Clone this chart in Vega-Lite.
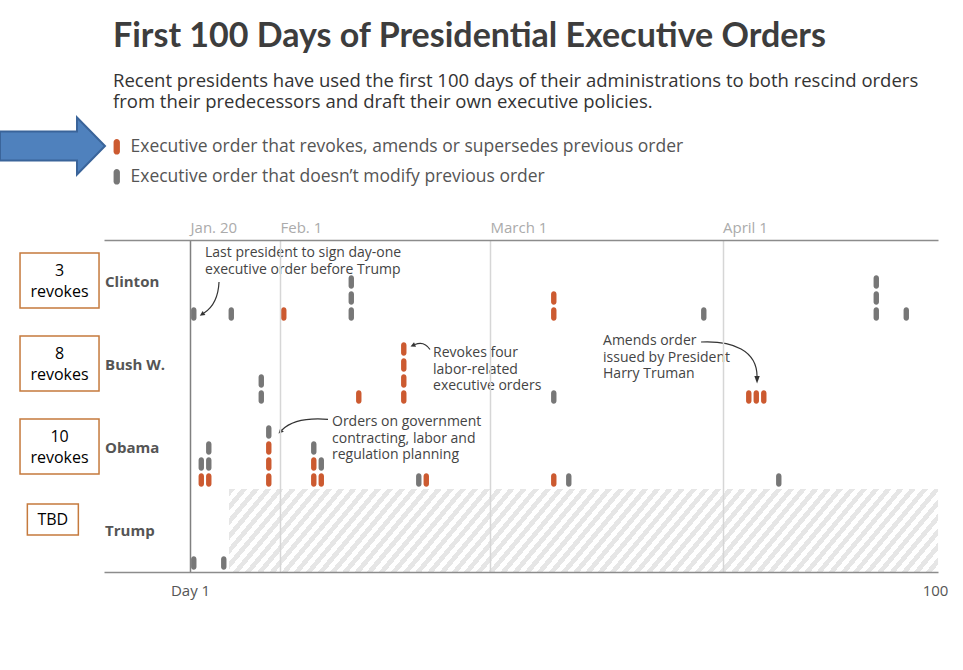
{
  "$schema": "https://vega.github.io/schema/vega-lite/v6.json",
  "width": 834,
  "height": 332,
  "autosize": {"type": "none"},
  "padding": {"left": 104, "top": 240, "right": 25, "bottom": 98},
  "title": {
    "text": "First 100 Days of Presidential Executive Orders",
    "subtitle": ["Recent presidents have used the first 100 days of their administrations to both rescind orders", "from their predecessors and draft their own executive policies."],
    "anchor": "start", "frame": "group", "orient": "top", "dx": 9, "offset": 2,
    "font": "Lato", "fontSize": 34, "fontWeight": "bold", "color": "#3d3d3d",
    "subtitleFont": "Open Sans", "subtitleFontSize": 18.5, "subtitleColor": "#333333", "subtitleLineHeight": 21, "subtitlePadding": 18
  },
  "config": {"view": {"stroke": null}, "font": "Open Sans"},
  "datasets": {
    "orders": [
      {"president": "Clinton", "day": 1, "type": "other"},
      {"president": "Clinton", "day": 6, "type": "other"},
      {"president": "Clinton", "day": 13, "type": "revoke"},
      {"president": "Clinton", "day": 22, "type": "other"},
      {"president": "Clinton", "day": 22, "type": "other"},
      {"president": "Clinton", "day": 22, "type": "other"},
      {"president": "Clinton", "day": 49, "type": "revoke"},
      {"president": "Clinton", "day": 49, "type": "revoke"},
      {"president": "Clinton", "day": 69, "type": "other"},
      {"president": "Clinton", "day": 92, "type": "other"},
      {"president": "Clinton", "day": 92, "type": "other"},
      {"president": "Clinton", "day": 92, "type": "other"},
      {"president": "Clinton", "day": 96, "type": "other"},
      {"president": "Bush W.", "day": 10, "type": "other"},
      {"president": "Bush W.", "day": 10, "type": "other"},
      {"president": "Bush W.", "day": 23, "type": "revoke"},
      {"president": "Bush W.", "day": 29, "type": "revoke"},
      {"president": "Bush W.", "day": 29, "type": "revoke"},
      {"president": "Bush W.", "day": 29, "type": "revoke"},
      {"president": "Bush W.", "day": 29, "type": "revoke"},
      {"president": "Bush W.", "day": 49, "type": "other"},
      {"president": "Bush W.", "day": 75, "type": "revoke"},
      {"president": "Bush W.", "day": 76, "type": "revoke"},
      {"president": "Bush W.", "day": 77, "type": "revoke"},
      {"president": "Obama", "day": 2, "type": "revoke"},
      {"president": "Obama", "day": 2, "type": "other"},
      {"president": "Obama", "day": 3, "type": "revoke"},
      {"president": "Obama", "day": 3, "type": "other"},
      {"president": "Obama", "day": 3, "type": "other"},
      {"president": "Obama", "day": 11, "type": "revoke"},
      {"president": "Obama", "day": 11, "type": "revoke"},
      {"president": "Obama", "day": 11, "type": "revoke"},
      {"president": "Obama", "day": 11, "type": "other"},
      {"president": "Obama", "day": 17, "type": "revoke"},
      {"president": "Obama", "day": 17, "type": "revoke"},
      {"president": "Obama", "day": 17, "type": "other"},
      {"president": "Obama", "day": 18, "type": "revoke"},
      {"president": "Obama", "day": 18, "type": "other"},
      {"president": "Obama", "day": 31, "type": "other"},
      {"president": "Obama", "day": 32, "type": "revoke"},
      {"president": "Obama", "day": 49, "type": "revoke"},
      {"president": "Obama", "day": 51, "type": "other"},
      {"president": "Obama", "day": 79, "type": "other"},
      {"president": "Trump", "day": 1, "type": "other"},
      {"president": "Trump", "day": 5, "type": "other"}
    ],
    "presidents": [
      {"president": "Clinton", "box": "3\nrevokes"},
      {"president": "Bush W.", "box": "8\nrevokes"},
      {"president": "Obama", "box": "10\nrevokes"},
      {"president": "Trump", "box": "TBD"}
    ]
  },
  "resolve": {"axis": {"x": "independent"}},
  "layer": [
    {
      "data": {"values": [{}]},
      "mark": {"type": "point", "shape": "M0,-41.5L709,-41.5L709,41.5L0,41.5Z", "size": 4, "filled": true, "strokeWidth": 0, "opacity": 1, "fill": {"gradient": "linear", "x1": 0, "y1": 0, "x2": 1.087, "y2": 0.106, "stops": [
{"offset":0,"color":"#e6e6e6"},{"offset":0.0078125,"color":"#e6e6e6"},{"offset":0.0078125,"color":"transparent"},{"offset":0.015625,"color":"transparent"},
{"offset":0.015625,"color":"#e6e6e6"},{"offset":0.0234375,"color":"#e6e6e6"},{"offset":0.0234375,"color":"transparent"},{"offset":0.03125,"color":"transparent"},
{"offset":0.03125,"color":"#e6e6e6"},{"offset":0.0390625,"color":"#e6e6e6"},{"offset":0.0390625,"color":"transparent"},{"offset":0.046875,"color":"transparent"},
{"offset":0.046875,"color":"#e6e6e6"},{"offset":0.0546875,"color":"#e6e6e6"},{"offset":0.0546875,"color":"transparent"},{"offset":0.0625,"color":"transparent"},
{"offset":0.0625,"color":"#e6e6e6"},{"offset":0.0703125,"color":"#e6e6e6"},{"offset":0.0703125,"color":"transparent"},{"offset":0.078125,"color":"transparent"},
{"offset":0.078125,"color":"#e6e6e6"},{"offset":0.0859375,"color":"#e6e6e6"},{"offset":0.0859375,"color":"transparent"},{"offset":0.09375,"color":"transparent"},
{"offset":0.09375,"color":"#e6e6e6"},{"offset":0.1015625,"color":"#e6e6e6"},{"offset":0.1015625,"color":"transparent"},{"offset":0.109375,"color":"transparent"},
{"offset":0.109375,"color":"#e6e6e6"},{"offset":0.1171875,"color":"#e6e6e6"},{"offset":0.1171875,"color":"transparent"},{"offset":0.125,"color":"transparent"},
{"offset":0.125,"color":"#e6e6e6"},{"offset":0.1328125,"color":"#e6e6e6"},{"offset":0.1328125,"color":"transparent"},{"offset":0.140625,"color":"transparent"},
{"offset":0.140625,"color":"#e6e6e6"},{"offset":0.1484375,"color":"#e6e6e6"},{"offset":0.1484375,"color":"transparent"},{"offset":0.15625,"color":"transparent"},
{"offset":0.15625,"color":"#e6e6e6"},{"offset":0.1640625,"color":"#e6e6e6"},{"offset":0.1640625,"color":"transparent"},{"offset":0.171875,"color":"transparent"},
{"offset":0.171875,"color":"#e6e6e6"},{"offset":0.1796875,"color":"#e6e6e6"},{"offset":0.1796875,"color":"transparent"},{"offset":0.1875,"color":"transparent"},
{"offset":0.1875,"color":"#e6e6e6"},{"offset":0.1953125,"color":"#e6e6e6"},{"offset":0.1953125,"color":"transparent"},{"offset":0.203125,"color":"transparent"},
{"offset":0.203125,"color":"#e6e6e6"},{"offset":0.2109375,"color":"#e6e6e6"},{"offset":0.2109375,"color":"transparent"},{"offset":0.21875,"color":"transparent"},
{"offset":0.21875,"color":"#e6e6e6"},{"offset":0.2265625,"color":"#e6e6e6"},{"offset":0.2265625,"color":"transparent"},{"offset":0.234375,"color":"transparent"},
{"offset":0.234375,"color":"#e6e6e6"},{"offset":0.2421875,"color":"#e6e6e6"},{"offset":0.2421875,"color":"transparent"},{"offset":0.25,"color":"transparent"},
{"offset":0.25,"color":"#e6e6e6"},{"offset":0.2578125,"color":"#e6e6e6"},{"offset":0.2578125,"color":"transparent"},{"offset":0.265625,"color":"transparent"},
{"offset":0.265625,"color":"#e6e6e6"},{"offset":0.2734375,"color":"#e6e6e6"},{"offset":0.2734375,"color":"transparent"},{"offset":0.28125,"color":"transparent"},
{"offset":0.28125,"color":"#e6e6e6"},{"offset":0.2890625,"color":"#e6e6e6"},{"offset":0.2890625,"color":"transparent"},{"offset":0.296875,"color":"transparent"},
{"offset":0.296875,"color":"#e6e6e6"},{"offset":0.3046875,"color":"#e6e6e6"},{"offset":0.3046875,"color":"transparent"},{"offset":0.3125,"color":"transparent"},
{"offset":0.3125,"color":"#e6e6e6"},{"offset":0.3203125,"color":"#e6e6e6"},{"offset":0.3203125,"color":"transparent"},{"offset":0.328125,"color":"transparent"},
{"offset":0.328125,"color":"#e6e6e6"},{"offset":0.3359375,"color":"#e6e6e6"},{"offset":0.3359375,"color":"transparent"},{"offset":0.34375,"color":"transparent"},
{"offset":0.34375,"color":"#e6e6e6"},{"offset":0.3515625,"color":"#e6e6e6"},{"offset":0.3515625,"color":"transparent"},{"offset":0.359375,"color":"transparent"},
{"offset":0.359375,"color":"#e6e6e6"},{"offset":0.3671875,"color":"#e6e6e6"},{"offset":0.3671875,"color":"transparent"},{"offset":0.375,"color":"transparent"},
{"offset":0.375,"color":"#e6e6e6"},{"offset":0.3828125,"color":"#e6e6e6"},{"offset":0.3828125,"color":"transparent"},{"offset":0.390625,"color":"transparent"},
{"offset":0.390625,"color":"#e6e6e6"},{"offset":0.3984375,"color":"#e6e6e6"},{"offset":0.3984375,"color":"transparent"},{"offset":0.40625,"color":"transparent"},
{"offset":0.40625,"color":"#e6e6e6"},{"offset":0.4140625,"color":"#e6e6e6"},{"offset":0.4140625,"color":"transparent"},{"offset":0.421875,"color":"transparent"},
{"offset":0.421875,"color":"#e6e6e6"},{"offset":0.4296875,"color":"#e6e6e6"},{"offset":0.4296875,"color":"transparent"},{"offset":0.4375,"color":"transparent"},
{"offset":0.4375,"color":"#e6e6e6"},{"offset":0.4453125,"color":"#e6e6e6"},{"offset":0.4453125,"color":"transparent"},{"offset":0.453125,"color":"transparent"},
{"offset":0.453125,"color":"#e6e6e6"},{"offset":0.4609375,"color":"#e6e6e6"},{"offset":0.4609375,"color":"transparent"},{"offset":0.46875,"color":"transparent"},
{"offset":0.46875,"color":"#e6e6e6"},{"offset":0.4765625,"color":"#e6e6e6"},{"offset":0.4765625,"color":"transparent"},{"offset":0.484375,"color":"transparent"},
{"offset":0.484375,"color":"#e6e6e6"},{"offset":0.4921875,"color":"#e6e6e6"},{"offset":0.4921875,"color":"transparent"},{"offset":0.5,"color":"transparent"},
{"offset":0.5,"color":"#e6e6e6"},{"offset":0.5078125,"color":"#e6e6e6"},{"offset":0.5078125,"color":"transparent"},{"offset":0.515625,"color":"transparent"},
{"offset":0.515625,"color":"#e6e6e6"},{"offset":0.5234375,"color":"#e6e6e6"},{"offset":0.5234375,"color":"transparent"},{"offset":0.53125,"color":"transparent"},
{"offset":0.53125,"color":"#e6e6e6"},{"offset":0.5390625,"color":"#e6e6e6"},{"offset":0.5390625,"color":"transparent"},{"offset":0.546875,"color":"transparent"},
{"offset":0.546875,"color":"#e6e6e6"},{"offset":0.5546875,"color":"#e6e6e6"},{"offset":0.5546875,"color":"transparent"},{"offset":0.5625,"color":"transparent"},
{"offset":0.5625,"color":"#e6e6e6"},{"offset":0.5703125,"color":"#e6e6e6"},{"offset":0.5703125,"color":"transparent"},{"offset":0.578125,"color":"transparent"},
{"offset":0.578125,"color":"#e6e6e6"},{"offset":0.5859375,"color":"#e6e6e6"},{"offset":0.5859375,"color":"transparent"},{"offset":0.59375,"color":"transparent"},
{"offset":0.59375,"color":"#e6e6e6"},{"offset":0.6015625,"color":"#e6e6e6"},{"offset":0.6015625,"color":"transparent"},{"offset":0.609375,"color":"transparent"},
{"offset":0.609375,"color":"#e6e6e6"},{"offset":0.6171875,"color":"#e6e6e6"},{"offset":0.6171875,"color":"transparent"},{"offset":0.625,"color":"transparent"},
{"offset":0.625,"color":"#e6e6e6"},{"offset":0.6328125,"color":"#e6e6e6"},{"offset":0.6328125,"color":"transparent"},{"offset":0.640625,"color":"transparent"},
{"offset":0.640625,"color":"#e6e6e6"},{"offset":0.6484375,"color":"#e6e6e6"},{"offset":0.6484375,"color":"transparent"},{"offset":0.65625,"color":"transparent"},
{"offset":0.65625,"color":"#e6e6e6"},{"offset":0.6640625,"color":"#e6e6e6"},{"offset":0.6640625,"color":"transparent"},{"offset":0.671875,"color":"transparent"},
{"offset":0.671875,"color":"#e6e6e6"},{"offset":0.6796875,"color":"#e6e6e6"},{"offset":0.6796875,"color":"transparent"},{"offset":0.6875,"color":"transparent"},
{"offset":0.6875,"color":"#e6e6e6"},{"offset":0.6953125,"color":"#e6e6e6"},{"offset":0.6953125,"color":"transparent"},{"offset":0.703125,"color":"transparent"},
{"offset":0.703125,"color":"#e6e6e6"},{"offset":0.7109375,"color":"#e6e6e6"},{"offset":0.7109375,"color":"transparent"},{"offset":0.71875,"color":"transparent"},
{"offset":0.71875,"color":"#e6e6e6"},{"offset":0.7265625,"color":"#e6e6e6"},{"offset":0.7265625,"color":"transparent"},{"offset":0.734375,"color":"transparent"},
{"offset":0.734375,"color":"#e6e6e6"},{"offset":0.7421875,"color":"#e6e6e6"},{"offset":0.7421875,"color":"transparent"},{"offset":0.75,"color":"transparent"},
{"offset":0.75,"color":"#e6e6e6"},{"offset":0.7578125,"color":"#e6e6e6"},{"offset":0.7578125,"color":"transparent"},{"offset":0.765625,"color":"transparent"},
{"offset":0.765625,"color":"#e6e6e6"},{"offset":0.7734375,"color":"#e6e6e6"},{"offset":0.7734375,"color":"transparent"},{"offset":0.78125,"color":"transparent"},
{"offset":0.78125,"color":"#e6e6e6"},{"offset":0.7890625,"color":"#e6e6e6"},{"offset":0.7890625,"color":"transparent"},{"offset":0.796875,"color":"transparent"},
{"offset":0.796875,"color":"#e6e6e6"},{"offset":0.8046875,"color":"#e6e6e6"},{"offset":0.8046875,"color":"transparent"},{"offset":0.8125,"color":"transparent"},
{"offset":0.8125,"color":"#e6e6e6"},{"offset":0.8203125,"color":"#e6e6e6"},{"offset":0.8203125,"color":"transparent"},{"offset":0.828125,"color":"transparent"},
{"offset":0.828125,"color":"#e6e6e6"},{"offset":0.8359375,"color":"#e6e6e6"},{"offset":0.8359375,"color":"transparent"},{"offset":0.84375,"color":"transparent"},
{"offset":0.84375,"color":"#e6e6e6"},{"offset":0.8515625,"color":"#e6e6e6"},{"offset":0.8515625,"color":"transparent"},{"offset":0.859375,"color":"transparent"},
{"offset":0.859375,"color":"#e6e6e6"},{"offset":0.8671875,"color":"#e6e6e6"},{"offset":0.8671875,"color":"transparent"},{"offset":0.875,"color":"transparent"},
{"offset":0.875,"color":"#e6e6e6"},{"offset":0.8828125,"color":"#e6e6e6"},{"offset":0.8828125,"color":"transparent"},{"offset":0.890625,"color":"transparent"},
{"offset":0.890625,"color":"#e6e6e6"},{"offset":0.8984375,"color":"#e6e6e6"},{"offset":0.8984375,"color":"transparent"},{"offset":0.90625,"color":"transparent"},
{"offset":0.90625,"color":"#e6e6e6"},{"offset":0.9140625,"color":"#e6e6e6"},{"offset":0.9140625,"color":"transparent"},{"offset":0.921875,"color":"transparent"},
{"offset":0.921875,"color":"#e6e6e6"},{"offset":0.9296875,"color":"#e6e6e6"},{"offset":0.9296875,"color":"transparent"},{"offset":0.9375,"color":"transparent"},
{"offset":0.9375,"color":"#e6e6e6"},{"offset":0.9453125,"color":"#e6e6e6"},{"offset":0.9453125,"color":"transparent"},{"offset":0.953125,"color":"transparent"},
{"offset":0.953125,"color":"#e6e6e6"},{"offset":0.9609375,"color":"#e6e6e6"},{"offset":0.9609375,"color":"transparent"},{"offset":0.96875,"color":"transparent"},
{"offset":0.96875,"color":"#e6e6e6"},{"offset":0.9765625,"color":"#e6e6e6"},{"offset":0.9765625,"color":"transparent"},{"offset":0.984375,"color":"transparent"},
{"offset":0.984375,"color":"#e6e6e6"},{"offset":0.9921875,"color":"#e6e6e6"},{"offset":0.9921875,"color":"transparent"},{"offset":1,"color":"transparent"}
      ]}},
      "encoding": {
        "x": {"datum": 5.7, "type": "quantitative", "axis": {"orient": "bottom", "title": null, "values": [0.5, 99.83], "labelExpr": "datum.value < 1 ? 'Day 1' : '100'", "labelAlign": "center", "labelBaseline": "alphabetic", "labelPadding": 23, "labelColor": "#555555", "labelFontSize": 15, "labelFont": "Open Sans", "labelFlush": false, "labelOverlap": false, "labelBound": false, "ticks": false, "tickSize": 0, "grid": false, "domainColor": "#8c8c8c", "domainWidth": 1.5, "zindex": 1}},
        "y": {"datum": "Trump", "type": "nominal", "axis": null}
      }
    },
    {
      "data": {"name": "orders"},
      "transform": [{"window": [{"op": "row_number", "as": "level"}], "groupby": ["president", "day"], "sort": [{"field": "type", "order": "descending"}]}],
      "mark": {"type": "point", "shape": "M-2.7,-4A2.7,2.7 0 0 1 2.7,-4L2.7,4A2.7,2.7 0 0 1 -2.7,4Z", "size": 4, "filled": true, "opacity": 1, "strokeWidth": 0},
      "encoding": {
        "x": {"field": "day", "type": "quantitative", "scale": {"domain": [-10.97, 100.23], "nice": false, "zero": false},
          "axis": {"orient": "top", "title": null, "values": [0.5, 12.5, 40.5, 71.5], "labelExpr": "datum.value < 1 ? 'Jan. 20' : datum.value < 13 ? 'Feb. 1' : datum.value < 41 ? 'March 1' : 'April 1'", "labelAlign": "left", "labelBaseline": "alphabetic", "labelPadding": 8, "labelColor": "#ababab", "labelFontSize": 15, "labelFont": "Open Sans", "labelFlush": false, "labelOverlap": false, "labelBound": false, "ticks": false, "tickSize": 0, "domainColor": "#8c8c8c", "domainWidth": 1.5, "grid": true, "gridColor": {"condition": {"test": "datum.value < 1", "value": "#808080"}, "value": "#d6d6d6"}, "gridWidth": 1.5, "zindex": 1}},
        "y": {"field": "president", "type": "nominal", "scale": {"domain": ["Clinton", "Bush W.", "Obama", "Trump"], "paddingInner": 0, "paddingOuter": 0},
          "axis": {"title": null, "labels": false, "ticks": false, "domain": false, "grid": true, "gridColor": "#8c8c8c", "gridWidth": 1.5, "bandPosition": 0, "zindex": 1}},
        "yOffset": {"field": "level", "type": "quantitative", "scale": {"domain": [1, 5], "range": [74, 10]}},
        "color": {"field": "type", "type": "nominal", "scale": {"domain": ["revoke", "other"], "range": ["#cc5a30", "#777777"]},
          "legend": {"orient": "none", "legendX": 4, "legendY": -102, "title": null, "direction": "vertical",
            "labelExpr": "datum.value == 'revoke' ? 'Executive order that revokes, amends or supersedes previous order' : 'Executive order that doesn’t modify previous order'",
            "symbolType": "M-2.7,-4A2.7,2.7 0 0 1 2.7,-4L2.7,4A2.7,2.7 0 0 1 -2.7,4Z", "symbolSize": 5.5, "symbolStrokeWidth": 0,
            "labelFontSize": 17.5, "labelColor": "#555555", "labelFont": "Open Sans", "labelLimit": 0, "labelOffset": 5, "rowPadding": 11, "padding": 0}}
      }
    },
    {
      "data": {"name": "presidents"},
      "mark": {"type": "text", "align": "left", "baseline": "middle", "fontSize": 15, "fontWeight": "bold", "color": "#555555", "font": "Open Sans"},
      "encoding": {
        "x": {"datum": -10.83, "type": "quantitative", "axis": null},
        "y": {"field": "president", "type": "nominal", "axis": null},
        "text": {"field": "president"}
      }
    },
    {
      "data": {"name": "presidents"},
      "transform": [{"filter": "datum.president != 'Trump'"}],
      "mark": {"type": "point", "shape": "M-39.5,-28.5L39.5,-28.5L39.5,26.5L-39.5,26.5Z", "size": 4, "filled": true, "fill": "white", "stroke": "#c57a3d", "strokeWidth": 1.5, "opacity": 1},
      "encoding": {
        "x": {"datum": -16.9, "type": "quantitative", "axis": null},
        "y": {"field": "president", "type": "nominal", "axis": null}
      }
    },
    {
      "data": {"name": "presidents"},
      "transform": [{"filter": "datum.president == 'Trump'"}],
      "mark": {"type": "point", "shape": "M-25.5,-26.5L25.5,-26.5L25.5,4.5L-25.5,4.5Z", "size": 4, "filled": true, "fill": "white", "stroke": "#c57a3d", "strokeWidth": 1.5, "opacity": 1},
      "encoding": {
        "x": {"datum": -17.79, "type": "quantitative", "axis": null},
        "y": {"field": "president", "type": "nominal", "axis": null}
      }
    },
    {
      "data": {"name": "presidents"},
      "transform": [{"filter": "datum.president != 'Trump'"}],
      "mark": {"type": "text", "align": "center", "baseline": "alphabetic", "dy": -6, "lineBreak": "\n", "lineHeight": 21, "fontSize": 16, "color": "#000000", "font": "Open Sans"},
      "encoding": {
        "x": {"datum": -16.9, "type": "quantitative", "axis": null},
        "y": {"field": "president", "type": "nominal", "axis": null},
        "text": {"field": "box"}
      }
    },
    {
      "data": {"name": "presidents"},
      "transform": [{"filter": "datum.president == 'Trump'"}],
      "mark": {"type": "text", "align": "center", "baseline": "alphabetic", "dy": -5.5, "fontSize": 16, "color": "#000000", "font": "Open Sans"},
      "encoding": {
        "x": {"datum": -17.79, "type": "quantitative", "axis": null},
        "y": {"field": "president", "type": "nominal", "axis": null},
        "text": {"field": "box"}
      }
    },
    {
      "data": {"values": [{}]},
      "mark": {"type": "text", "text": "Last president to sign day-one\nexecutive order before Trump", "lineBreak": "\n", "align": "left", "baseline": "alphabetic", "dy": -24.5, "lineHeight": 16.5, "fontSize": 14, "color": "#444444", "font": "Open Sans"},
      "encoding": {"x": {"datum": 2.5, "type": "quantitative", "axis": null}, "y": {"datum": "Clinton", "type": "nominal", "axis": null}}
    },
    {
      "data": {"values": [{}]},
      "mark": {"type": "text", "text": "Revokes four\nlabor-related\nexecutive orders", "lineBreak": "\n", "align": "left", "baseline": "alphabetic", "dy": -7.5, "lineHeight": 16.5, "fontSize": 14, "color": "#444444", "font": "Open Sans"},
      "encoding": {"x": {"datum": 32.9, "type": "quantitative", "axis": null}, "y": {"datum": "Bush W.", "type": "nominal", "axis": null}}
    },
    {
      "data": {"values": [{}]},
      "mark": {"type": "text", "text": "Amends order\nissued by President\nHarry Truman", "lineBreak": "\n", "align": "left", "baseline": "alphabetic", "dy": -19.5, "lineHeight": 16.5, "fontSize": 14, "color": "#444444", "font": "Open Sans"},
      "encoding": {"x": {"datum": 55.57, "type": "quantitative", "axis": null}, "y": {"datum": "Bush W.", "type": "nominal", "axis": null}}
    },
    {
      "data": {"values": [{}]},
      "mark": {"type": "text", "text": "Orders on government\ncontracting, labor and\nregulation planning", "lineBreak": "\n", "align": "left", "baseline": "alphabetic", "dy": -21.5, "lineHeight": 16.5, "fontSize": 14, "color": "#444444", "font": "Open Sans"},
      "encoding": {"x": {"datum": 19.43, "type": "quantitative", "axis": null}, "y": {"datum": "Obama", "type": "nominal", "axis": null}}
    },
    {
      "data": {"values": [{}]},
      "mark": {"type": "point", "shape": "M14,0.5Q13,22.5 -1,31.5", "size": 4, "filled": false, "color": "#333333", "strokeWidth": 1.2, "opacity": 1},
      "encoding": {"x": {"datum": 2.5, "type": "quantitative", "axis": null}, "y": {"datum": "Clinton", "type": "nominal", "axis": null}}
    },
    {
      "data": {"values": [{}]},
      "mark": {"type": "point", "shape": "M-5.2,34.2L0.35,33.6L-2.35,29.4Z", "size": 4, "filled": true, "color": "#333333", "strokeWidth": 0, "opacity": 1},
      "encoding": {"x": {"datum": 2.5, "type": "quantitative", "axis": null}, "y": {"datum": "Clinton", "type": "nominal", "axis": null}}
    },
    {
      "data": {"values": [{}]},
      "mark": {"type": "point", "shape": "M-3,-15Q-9,-24 -18,-20", "size": 4, "filled": false, "color": "#333333", "strokeWidth": 1.2, "opacity": 1},
      "encoding": {"x": {"datum": 32.9, "type": "quantitative", "axis": null}, "y": {"datum": "Bush W.", "type": "nominal", "axis": null}}
    },
    {
      "data": {"values": [{}]},
      "mark": {"type": "point", "shape": "M-22.5,-18L-17,-17.7L-19,-22.3Z", "size": 4, "filled": true, "color": "#333333", "strokeWidth": 0, "opacity": 1},
      "encoding": {"x": {"datum": 32.9, "type": "quantitative", "axis": null}, "y": {"datum": "Bush W.", "type": "nominal", "axis": null}}
    },
    {
      "data": {"values": [{}]},
      "mark": {"type": "point", "shape": "M98,-22.5C130,-24 154,-14 154,12", "size": 4, "filled": false, "color": "#333333", "strokeWidth": 1.2, "opacity": 1},
      "encoding": {"x": {"datum": 55.57, "type": "quantitative", "axis": null}, "y": {"datum": "Bush W.", "type": "nominal", "axis": null}}
    },
    {
      "data": {"values": [{}]},
      "mark": {"type": "point", "shape": "M154,19L151.3,11.5L156.7,11.5Z", "size": 4, "filled": true, "color": "#333333", "strokeWidth": 0, "opacity": 1},
      "encoding": {"x": {"datum": 55.57, "type": "quantitative", "axis": null}, "y": {"datum": "Bush W.", "type": "nominal", "axis": null}}
    },
    {
      "data": {"values": [{}]},
      "mark": {"type": "point", "shape": "M-4,-28.2Q-37,-30.75 -50,-17.5", "size": 4, "filled": false, "color": "#333333", "strokeWidth": 1.2, "opacity": 1},
      "encoding": {"x": {"datum": 19.43, "type": "quantitative", "axis": null}, "y": {"datum": "Obama", "type": "nominal", "axis": null}}
    },
    {
      "data": {"values": [{}]},
      "mark": {"type": "point", "shape": "M-53.5,-14L-48.2,-15.75L-51.8,-19.25Z", "size": 4, "filled": true, "color": "#333333", "strokeWidth": 0, "opacity": 1},
      "encoding": {"x": {"datum": 19.43, "type": "quantitative", "axis": null}, "y": {"datum": "Obama", "type": "nominal", "axis": null}}
    },
    {
      "data": {"values": [{}]},
      "mark": {"type": "point", "shape": "M-53,-150L24,-150L24,-164L52,-135.5L24,-107L24,-121L-53,-121Z", "size": 4, "filled": true, "color": "#4f81bd", "stroke": "#3a649a", "strokeWidth": 2, "opacity": 1},
      "encoding": {"x": {"datum": -17.77, "type": "quantitative", "axis": null}, "y": {"datum": "Clinton", "type": "nominal", "axis": null}}
    }
  ]
}
